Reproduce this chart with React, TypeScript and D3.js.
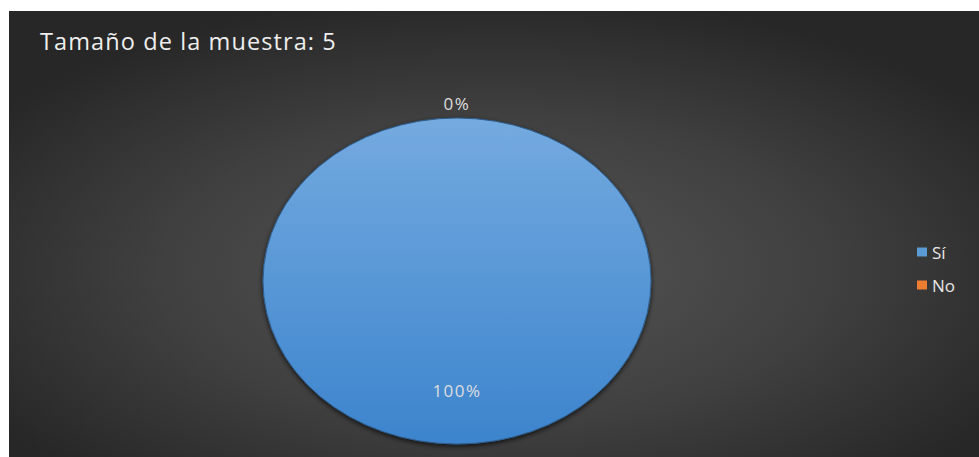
import React from "react";
import * as d3 from "d3";

const categories = ["Sí", "No"];
const values = [5, 0];
const colors = ["#5b9bd5", "#ed7d31"];
const title = "Tamaño de la muestra: 5";

const W = 979;
const H = 457;

export default function App() {
  const cx = 457;
  const cy = 281;
  const rx = 194;
  const ry = 163;
  const sy = ry / rx;
  const total = d3.sum(values);
  const pie = d3.pie<number>().sort(null).value((d) => d);
  const arcs = pie(values);
  const arc = d3.arc<d3.PieArcDatum<number>>().innerRadius(0).outerRadius(rx);
  const fmt = (v: number) => `${Math.round((v / total) * 100)}%`;

  const labelPos = (a: d3.PieArcDatum<number>) => {
    const mid = (a.startAngle + a.endAngle) / 2;
    const zero = a.endAngle - a.startAngle < 1e-6;
    const r = zero ? rx * 1.09 : rx * 0.67;
    return [cx + Math.sin(mid) * r, cy - Math.cos(mid) * r * sy];
  };

  const font = "'Open Sans', 'Noto Sans', sans-serif";

  return (
    <div style={{ position: "absolute", left: 0, top: 0 }}>
      <svg width={W} height={H} style={{ display: "block" }}>
        <defs>
          <radialGradient id="bg" cx="0.5" cy="0.58" r="0.62" gradientUnits="objectBoundingBox">
            <stop offset="0" stopColor="#565656" />
            <stop offset="0.55" stopColor="#404040" />
            <stop offset="1" stopColor="#272727" />
          </radialGradient>
          <linearGradient id="blue" x1="0" y1="0" x2="0" y2="1">
            <stop offset="0" stopColor="#74aadf" />
            <stop offset="1" stopColor="#3c84cd" />
          </linearGradient>
          <linearGradient id="orange" x1="0" y1="0" x2="0" y2="1">
            <stop offset="0" stopColor="#f59a5a" />
            <stop offset="1" stopColor="#e0702a" />
          </linearGradient>
          <filter id="shadow" x="-20%" y="-20%" width="140%" height="140%">
            <feDropShadow dx="0" dy="2" stdDeviation="2.5" floodColor="#000" floodOpacity="0.7" />
          </filter>
        </defs>
        <rect x={0} y={0} width={W} height={H} fill="#ffffff" />
        <rect x={9} y={11} width={W - 9} height={H - 11} fill="url(#bg)" />
        <text x={40} y={50} fill="#eeeeee" fontFamily={font} fontSize={23.5} fontWeight={500} letterSpacing={1.1}>
          {title}
        </text>
        <g filter="url(#shadow)">
          {arcs.map((a, i) => {
            const span = a.endAngle - a.startAngle;
            if (span < 1e-6) return null;
            const full = span >= 2 * Math.PI - 1e-6;
            const fill = i === 0 ? "url(#blue)" : "url(#orange)";
            return full ? (
              <ellipse key={i} cx={cx} cy={cy} rx={rx} ry={ry} fill={fill} stroke="#2f5f90" strokeWidth={1} />
            ) : (
              <path
                key={i}
                d={arc(a) || ""}
                transform={`translate(${cx},${cy}) scale(1,${sy})`}
                fill={fill}
                stroke="#2f5f90"
                strokeWidth={1}
              />
            );
          })}
        </g>
        {arcs.map((a, i) => {
          const [lx, ly] = labelPos(a);
          return (
            <text
              key={`l${i}`}
              x={lx}
              y={ly}
              textAnchor="middle"
              dominantBaseline="central"
              fill="#dedede"
              fontFamily={font}
              fontSize={17}
              letterSpacing={1.5}
            >
              {fmt(values[i])}
            </text>
          );
        })}
        {categories.map((c, i) => (
          <g key={`lg${i}`} transform={`translate(917,${252 + i * 33})`}>
            <rect x={0} y={-4.5} width={10} height={9} fill={colors[i]} />
            <text
              x={15}
              y={0}
              dominantBaseline="central"
              fill="#e6e6e6"
              fontFamily={font}
              fontSize={17}
              fontWeight={500}
            >
              {c}
            </text>
          </g>
        ))}
      </svg>
    </div>
  );
}
